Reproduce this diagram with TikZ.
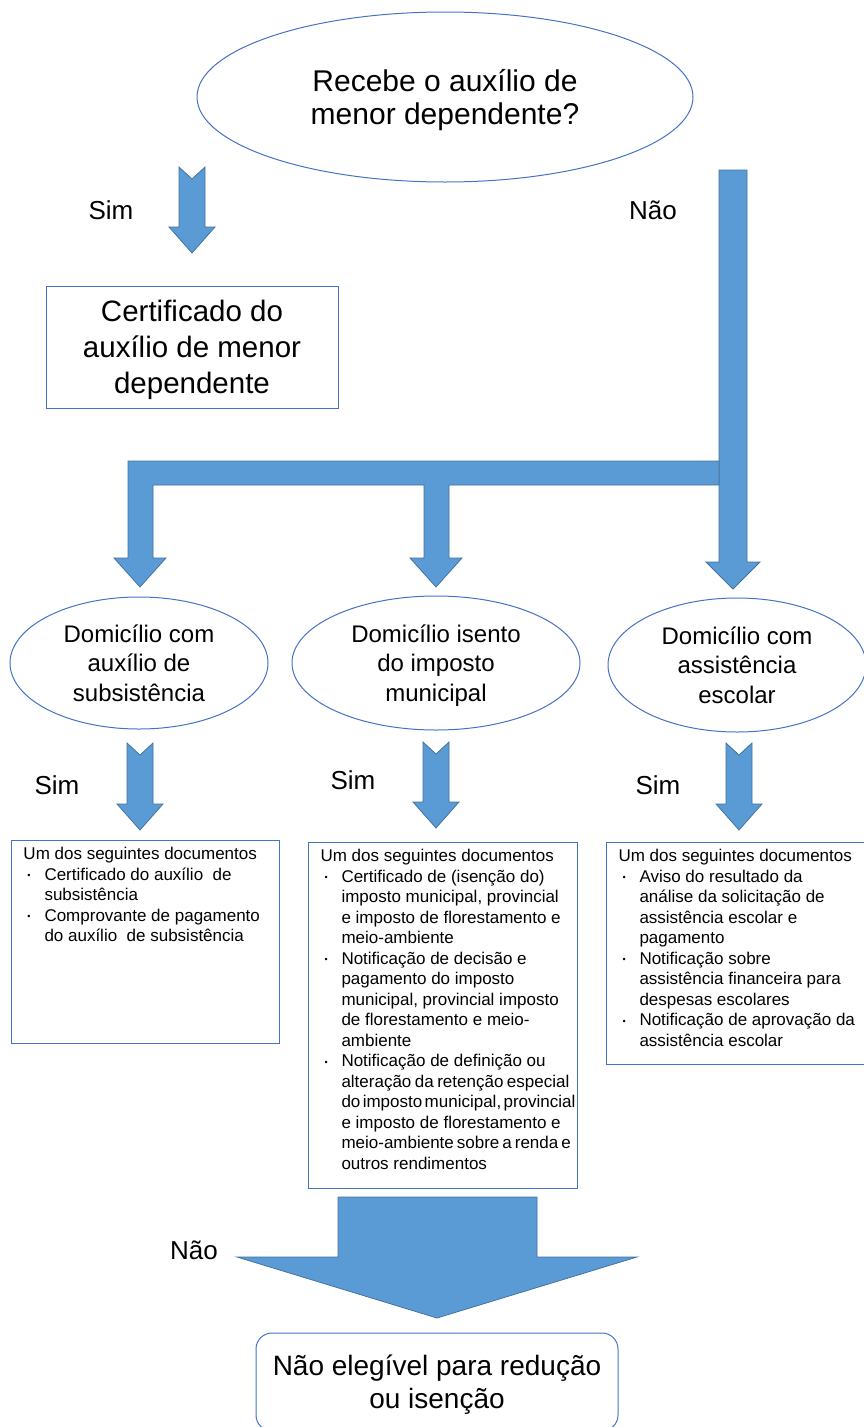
\documentclass[tikz,border=0pt]{standalone}
\usepackage{fontspec}
\setmainfont{Liberation Sans}
\usetikzlibrary{shapes.geometric}

\definecolor{arrowblue}{RGB}{91,155,213}
\definecolor{arrowedge}{RGB}{65,113,156}
\definecolor{shapeedge}{RGB}{68,114,196}

\tikzset{
  question/.style={ellipse, draw=shapeedge, line width=1pt, inner sep=0pt, align=center,
                   text depth=0pt},
  docbox/.style={draw=shapeedge, line width=1pt, inner xsep=0pt, inner ysep=7pt,
                 anchor=north west, font=\fontsize{17}{20.5}\selectfont},
  blockarrow/.style={fill=arrowblue, draw=arrowedge, line width=0.75pt},
  answer/.style={font=\fontsize{26}{30}\selectfont},
}

% list helpers for the document boxes
\newcommand{\doclist}[3]{\hspace*{12pt}\parbox[c][#2][t]{#1}{#3}\hspace*{2pt}}
\newcommand{\bitem}{\makebox[21pt][l]{\hspace*{4pt}\raisebox{1.5pt}{\fontsize{9}{9}\selectfont\textbullet}}}
\newcommand{\cont}{\hspace*{21pt}}
\newcommand{\tight}[2]{{\spaceskip=#1\relax #2}}
% notched down arrow: x, top, tip
\newcommand{\simarrow}[3]{%
  \draw[blockarrow] (#1-13,#2) -- (#1,#2+12) -- (#1+13,#2) -- (#1+13,#3-26)
    -- (#1+23,#3-26) -- (#1,#3) -- (#1-23,#3-26) -- (#1-13,#3-26) -- cycle;}

\begin{document}
\begin{tikzpicture}[x=1pt,y=-1pt]
\useasboundingbox (0,0) rectangle (864,1427);
% Question
\node[question, minimum width=496, minimum height=170, font=\fontsize{30}{33}\selectfont]
  (recebe) at (445,97) {Recebe o auxílio de\\menor dependente?};
\node[answer] (sim0) at (111,210) {Sim};
\node[answer] (nao0) at (653,210) {Não};
\simarrow{192}{167}{253}
\node[draw=shapeedge, line width=1pt, minimum width=292, minimum height=122, align=center,
      text depth=0pt, font=\fontsize{29.5}{36}\selectfont] (cert) at (192,347)
  {Certificado do\\auxílio de menor\\dependente};
%
% Branch to the three households
\draw[blockarrow] (719,170) -- (747,170) -- (747,562) -- (760,562) -- (733,589)
  -- (706,562) -- (719,562) -- cycle;
\draw[blockarrow] (719,461) -- (719,485) -- (449,485) -- (449,558) -- (462,558)
  -- (436,587) -- (410,558) -- (424,558) -- (424,485) -- (153,485) -- (153,558)
  -- (166,558) -- (140,587) -- (114,558) -- (128,558) -- (128,461) -- cycle;
%
% Households
\node[question, minimum width=258, minimum height=132, font=\fontsize{24}{29.5}\selectfont]
  (subs) at (139,663) {Domicílio com\\auxílio de\\subsistência};
\node[question, minimum width=288, minimum height=134, font=\fontsize{24}{29.5}\selectfont]
  (isento) at (436,663) {Domicílio isento\\do imposto\\municipal};
\node[question, minimum width=258, minimum height=134, font=\fontsize{24}{29.5}\selectfont]
  (escolar) at (737,665) {Domicílio com\\assistência\\escolar};
%
\node[answer] (sim1) at (57,785) {Sim};
\node[answer] (sim2) at (353,780) {Sim};
\node[answer] (sim3) at (658,785) {Sim};
\simarrow{140}{743}{830}
\simarrow{436}{742}{828}
\simarrow{739}{743}{830}
%
% Documents
\node[docbox] (docsubs) at (11,840) {\doclist{254pt}{189pt}{%
  Um dos seguintes documentos\\
  \bitem Certificado do auxílio\ \ de\\
  \cont subsistência\\
  \bitem Comprovante de pagamento\\
  \cont do auxílio\ \ de subsistência}};
\node[docbox] (docisento) at (308,842) {\doclist{255pt}{332pt}{%
  Um dos seguintes documentos\\
  \bitem Certificado de (isenção do)\\
  \cont imposto municipal, provincial\\
  \cont e imposto de florestamento e\\
  \cont meio-ambiente\\
  \bitem Notificação de decisão e\\
  \cont pagamento do imposto\\
  \cont municipal, provincial imposto\\
  \cont de florestamento e meio-\\
  \cont ambiente\\
  \bitem Notificação de definição ou\\
  \cont \tight{3.5pt}{alteração da retenção especial}\\
  \cont \tight{2.4pt}{do imposto municipal, provincial}\\
  \cont e imposto de florestamento e\\
  \cont \tight{3pt}{meio-ambiente sobre a renda e}\\
  \cont outros rendimentos}};
\node[docbox] (docescolar) at (606,842) {\doclist{248pt}{208pt}{%
  Um dos seguintes documentos\\
  \bitem Aviso do resultado da\\
  \cont análise da solicitação de\\
  \cont assistência escolar e\\
  \cont pagamento\\
  \bitem Notificação sobre\\
  \cont assistência financeira para\\
  \cont despesas escolares\\
  \bitem Notificação de aprovação da\\
  \cont assistência escolar}};
%
% Not eligible
\draw[blockarrow] (338,1197) -- (537,1197) -- (537,1257) -- (637,1257) -- (437,1318)
  -- (237,1257) -- (338,1257) -- cycle;
\node[answer] (nao1) at (194,1250) {Não};
\node[draw=shapeedge, line width=1pt, rounded corners=16pt, minimum width=362,
      minimum height=98, align=center, text depth=0pt, font=\fontsize{28}{33}\selectfont]
  (naoeleg) at (437,1382) {Não elegível para redução\\ou isenção};
\end{tikzpicture}
\end{document}
